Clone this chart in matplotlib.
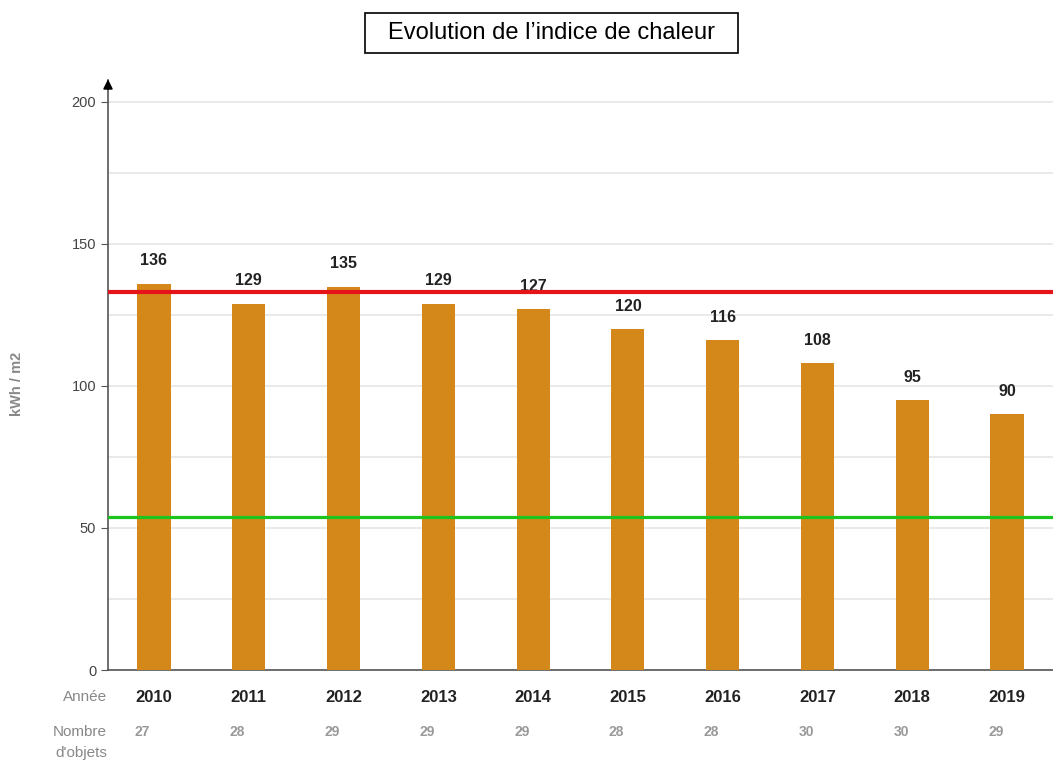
import matplotlib
matplotlib.use("Agg")
import matplotlib.pyplot as plt
from matplotlib.patches import Rectangle
import numpy as np

years = ["2010", "2011", "2012", "2013", "2014", "2015", "2016", "2017", "2018", "2019"]
values = [136, 129, 135, 129, 127, 120, 116, 108, 95, 90]
objects = [27, 28, 29, 29, 29, 28, 28, 30, 30, 29]
red_level = 133
green_level = 54
title = "Evolution de l\u2019indice de chaleur"
ylabel = "kWh / m2"

plt.rcParams['font.family'] = ['Liberation Sans', 'DejaVu Sans']

W, H = 1053, 760
fig = plt.figure(figsize=(W/100, H/100), dpi=100)
ax = fig.add_axes([108/W, 1-670/H, 1-108/W, (670-80)/H])

x = np.arange(len(years))
ax.bar(x, values, width=0.35, color="#D4881A", zorder=3)
ax.axhline(red_level, color="#E5141B", lw=3, zorder=4)
ax.axhline(green_level, color="#1DC41D", lw=2.3, zorder=4)

for xi, v in zip(x, values):
    ax.annotate(str(v), (xi, v), xytext=(0, 11), textcoords="offset points",
                ha="center", va="bottom", fontsize=11.5, fontweight="bold", color="#222222")

ax.set_xlim(-0.485, 9.485)
ax.set_ylim(0, 207.7)
ax.set_yticks([0, 50, 100, 150, 200])
ax.set_yticks([25, 75, 125, 175], minor=True)
ax.grid(axis="y", which="both", color="#E6E6E6", lw=1.2, zorder=0)
ax.tick_params(axis="y", which="major", length=5, color="#555555", labelsize=10.5, labelcolor="#444444")
ax.tick_params(axis="y", which="minor", length=0)
ax.set_xticks([])
for s in ["top", "right"]:
    ax.spines[s].set_visible(False)
for s in ["left", "bottom"]:
    ax.spines[s].set_color("#555555")
    ax.spines[s].set_linewidth(1.2)

# arrow on top of y axis
ax.annotate("", xy=(0, 1.006), xytext=(0, 0.98), xycoords="axes fraction",
            arrowprops=dict(arrowstyle="-|>", color="black", lw=1.2, mutation_scale=14))

# x labels
for xi, y, n in zip(x, years, objects):
    ax.annotate(y, (xi, 0), xycoords=("data", "axes fraction"), xytext=(0, -27*0.72),
                textcoords="offset points", ha="center", va="center",
                fontsize=12, fontweight="bold", color="#222222")
    ax.annotate(str(n), (xi, 0), xycoords=("data", "axes fraction"), xytext=(-19*0.72, -62*0.72),
                textcoords="offset points", ha="left", va="center",
                fontsize=10, fontweight="bold", color="#999999")

fig.text(107/W, 1-697/H, "Année", ha="right", va="center", fontsize=11, color="#888888")
fig.text(107/W, 1-732/H, "Nombre", ha="right", va="center", fontsize=11, color="#888888")
fig.text(107/W, 1-753/H, "d'objets", ha="right", va="center", fontsize=11, color="#888888")
fig.text(17/W, 1-384/H, ylabel, rotation=90, ha="center", va="center", fontsize=10.5,
         fontweight="bold", color="#888888")

fig.patches.append(Rectangle((365/W, 1-53/H), 373/W, 40/H, transform=fig.transFigure,
                             fc="white", ec="black", lw=1.2))
fig.text(551/W, 1-33/H, title, ha="center", va="center", fontsize=17, color="black")

fig.savefig("out.png", dpi=100)
